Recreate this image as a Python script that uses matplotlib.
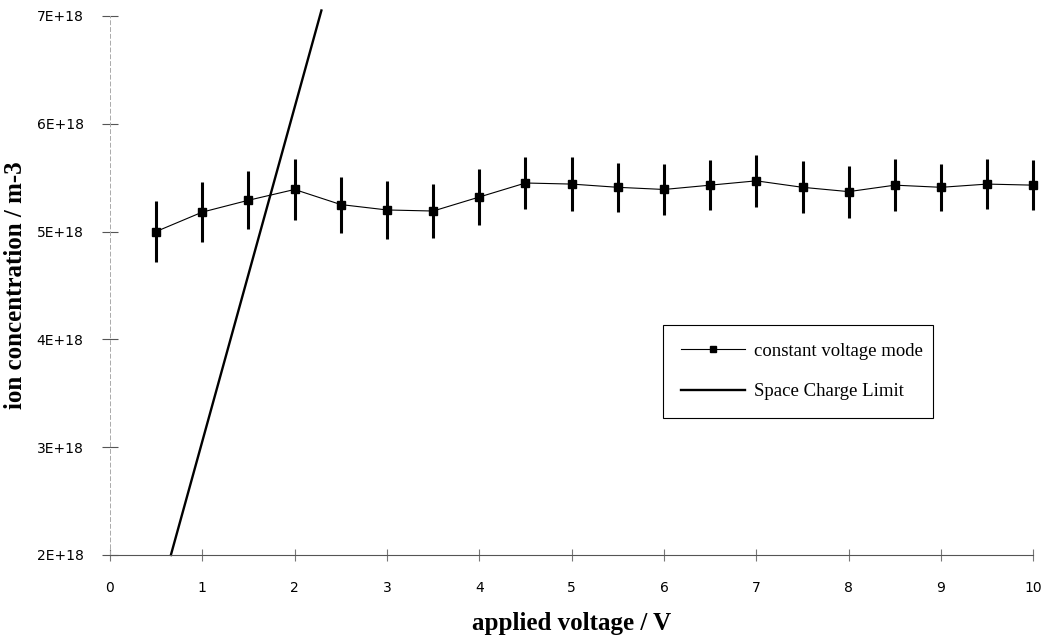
import matplotlib
matplotlib.use("Agg")
import matplotlib.pyplot as plt
from matplotlib.lines import Line2D

# constant voltage mode measurements (concentration in units of 1E18 m-3)
voltage = [0.5, 1.0, 1.5, 2.0, 2.5, 3.0, 3.5, 4.0, 4.5, 5.0,
           5.5, 6.0, 6.5, 7.0, 7.5, 8.0, 8.5, 9.0, 9.5, 10.0]
conc = [5.00, 5.18, 5.29, 5.39, 5.25, 5.20, 5.19, 5.32, 5.45, 5.44,
        5.41, 5.39, 5.43, 5.47, 5.41, 5.37, 5.43, 5.41, 5.44, 5.43]
conc_err = [0.28, 0.28, 0.27, 0.28, 0.26, 0.27, 0.25, 0.26, 0.24, 0.25,
            0.23, 0.24, 0.23, 0.24, 0.24, 0.24, 0.24, 0.22, 0.23, 0.23]

# space charge limit line
sc_voltage = [0.66, 2.29]
sc_conc = [2.0, 7.05]

yticks = [2, 3, 4, 5, 6, 7]
ytick_labels = ["2E+18", "3E+18", "4E+18", "5E+18", "6E+18", "7E+18"]
xticks = list(range(0, 11))

fig = plt.figure(figsize=(10.47, 6.35), dpi=100)
ax = fig.add_axes([0.105, 0.126, 0.882, 0.849])

eb = ax.errorbar(voltage, conc, yerr=conc_err, fmt="s-", color="black",
                 markersize=6, linewidth=0.8, elinewidth=2.2, capsize=0)
for art in eb.lines[2]:
    art.set_clip_on(False)
eb.lines[0].set_clip_on(False)
ax.plot(sc_voltage, sc_conc, color="black", linewidth=1.7, clip_on=False)

ax.set_xlim(0, 10)
ax.set_ylim(2, 7)
ax.set_xticks(xticks)
ax.set_yticks(yticks)
ax.set_yticklabels(ytick_labels)

for s in ["top", "right"]:
    ax.spines[s].set_visible(False)
ax.spines["left"].set_color("#aaaaaa")
ax.spines["left"].set_linestyle((0, (4, 3)))
ax.spines["left"].set_linewidth(0.7)
ax.spines["bottom"].set_color("#555555")
ax.spines["bottom"].set_linewidth(0.8)

ax.tick_params(axis="y", direction="inout", length=12, width=0.8,
               color="#555555", labelsize=10, pad=13)
ax.tick_params(axis="x", direction="inout", length=8, width=0.8,
               color="#777777", labelsize=10, pad=15)

serif = ["Liberation Serif", "DejaVu Serif"]
ax.set_xlabel("applied voltage / V", fontsize=18, fontweight="bold",
              family=serif, labelpad=12)
ax.set_ylabel("ion concentration / m-3", fontsize=18, fontweight="bold",
              family=serif)
ax.yaxis.set_label_coords(-0.09, 0.5)

handles = [
    Line2D([], [], color="black", linewidth=0.8, marker="s", markersize=5),
    Line2D([], [], color="black", linewidth=1.7),
]
labels = ["constant voltage mode", "Space Charge Limit"]
leg = ax.legend(handles, labels, loc="lower left",
                bbox_to_anchor=(0.599, 0.254, 0.292, 0.171),
                mode="expand", borderaxespad=0, fancybox=False,
                edgecolor="black", framealpha=1,
                prop={"family": serif, "size": 13.5},
                handlelength=3.4, labelspacing=1.25, borderpad=0.95,
                handletextpad=0.5)
leg.get_frame().set_linewidth(0.8)

fig.savefig("out.png", dpi=100)
